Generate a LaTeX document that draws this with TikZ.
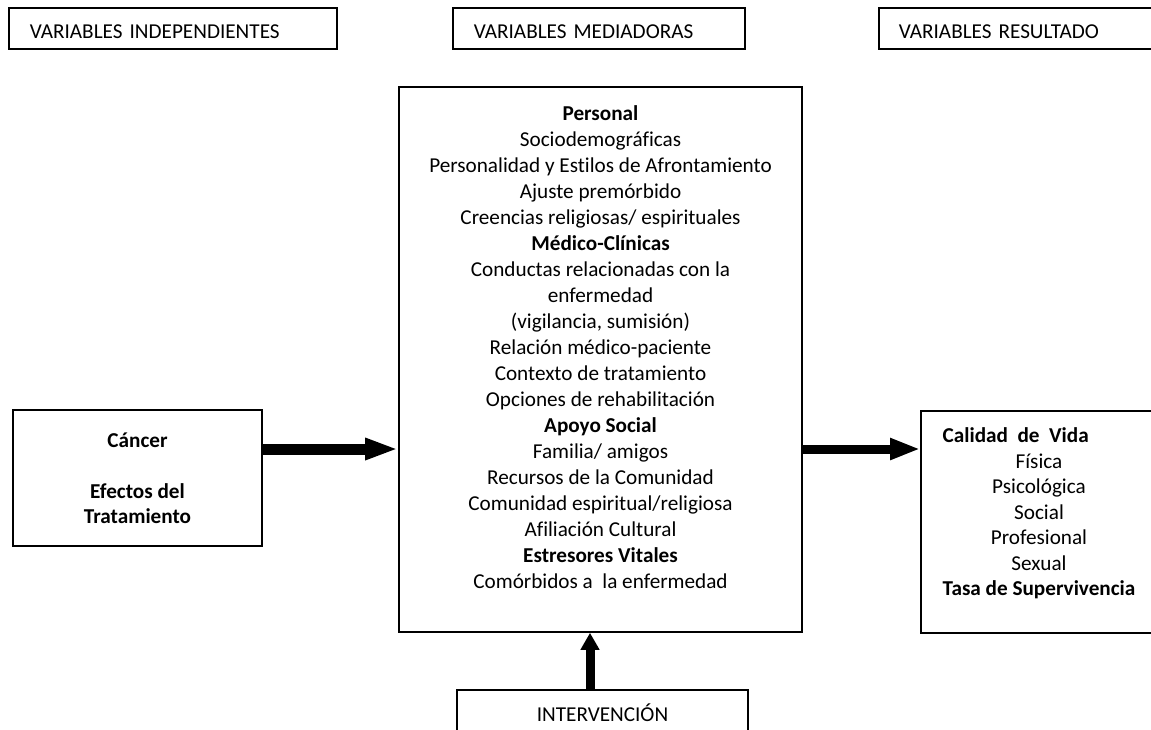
\documentclass[tikz,border=0pt]{standalone}
\usepackage{fontspec}
\setmainfont{Carlito}[Ligatures=NoCommon]
\usetikzlibrary{positioning,arrows.meta}
\tikzset{
  hdr/.style   = {draw, line width=1.6pt, anchor=north west, minimum height=41pt, inner xsep=21pt, text height=21pt, text depth=0pt, align=left, font=\fontsize{21.2}{25}\selectfont},
  frame/.style = {draw, line width=1.6pt, inner sep=0pt},
  txt/.style   = {align=center, font=\fontsize{21.2}{26}\selectfont},
  flow/.style  = {line width=9pt, -{Triangle[length=30pt, width=20pt]}},
}

\begin{document}
\begin{tikzpicture}[x=1pt, y=-1pt]
  \useasboundingbox (0,0) rectangle (1151,729);
  \clip (0,0) rectangle (1151,729);
  % column headers
  \node[hdr, text width=286pt] (hindep) at (8,7) {VARIABLES INDEPENDIENTES};
  \node[hdr, text width=250pt] (hmed) at (452,7) {VARIABLES MEDIADORAS};
  \node[hdr, text width=252pt, inner xsep=20pt] (hres) at (878,7) {VARIABLES RESULTADO};
  % boxes
  \node[frame, minimum width=249pt, minimum height=136pt, align=center,
        font=\fontsize{21.2}{25.5}\selectfont\bfseries] (cancer) at (137.5,478)
        {Cáncer\\[25.5pt]Efectos del\\Tratamiento};
  \node[frame, minimum width=403pt, minimum height=545pt] (mediadoras) at (600.5,359.5) {};
  \node[txt] (medlist) at ([yshift=12pt]mediadoras.center) {%
    \textbf{Personal}\\
    Sociodemográficas\\
    Personalidad y Estilos de Afrontamiento\\
    Ajuste premórbido\\
    Creencias religiosas/ espirituales\\
    \textbf{Médico-Clínicas}\\
    Conductas relacionadas con la\\
    enfermedad\\
    (vigilancia, sumisión)\\
    Relación médico-paciente\\
    Contexto de tratamiento\\
    Opciones de rehabilitación\\
    \textbf{Apoyo Social}\\
    Familia/ amigos\\
    Recursos de la Comunidad\\
    Comunidad espiritual/religiosa\\
    Afiliación Cultural\\
    \textbf{Estresores Vitales}\\
    Comórbidos a\ \ la enfermedad};
  \node[frame, minimum width=236pt, minimum height=222pt] (resultado) at (1039,522) {};
  \node[txt, font=\fontsize{21.2}{25.5}\selectfont] (reslist) at ([yshift=8.5pt]resultado.center) {%
    \rlap{\textbf{Calidad\ \ de\ \ Vida}}\hphantom{\textbf{Tasa de Supervivencia}}\\
    Física\\
    Psicológica\\
    Social\\
    Profesional\\
    Sexual\\
    \textbf{Tasa de Supervivencia}};
  \node[frame, minimum width=291pt, minimum height=46pt, font=\fontsize{21.2}{25}\selectfont] (intervencion) at (602.5,713) {INTERVENCIÓN};
  % arrows
  \coordinate (lvl) at (0,449);
  \draw[flow, line width=11pt, -{Triangle[length=33pt, width=20pt]}] (cancer.east |- lvl) -- (mediadoras.west |- lvl);
  \draw[flow] (mediadoras.east |- lvl) -- (resultado.west |- lvl);
  \draw[flow, -{Triangle[length=17pt, width=18pt]}] ([xshift=-12.5pt]intervencion.north) -- ([xshift=-12.5pt]intervencion.north |- mediadoras.south);
\end{tikzpicture}
\end{document}
